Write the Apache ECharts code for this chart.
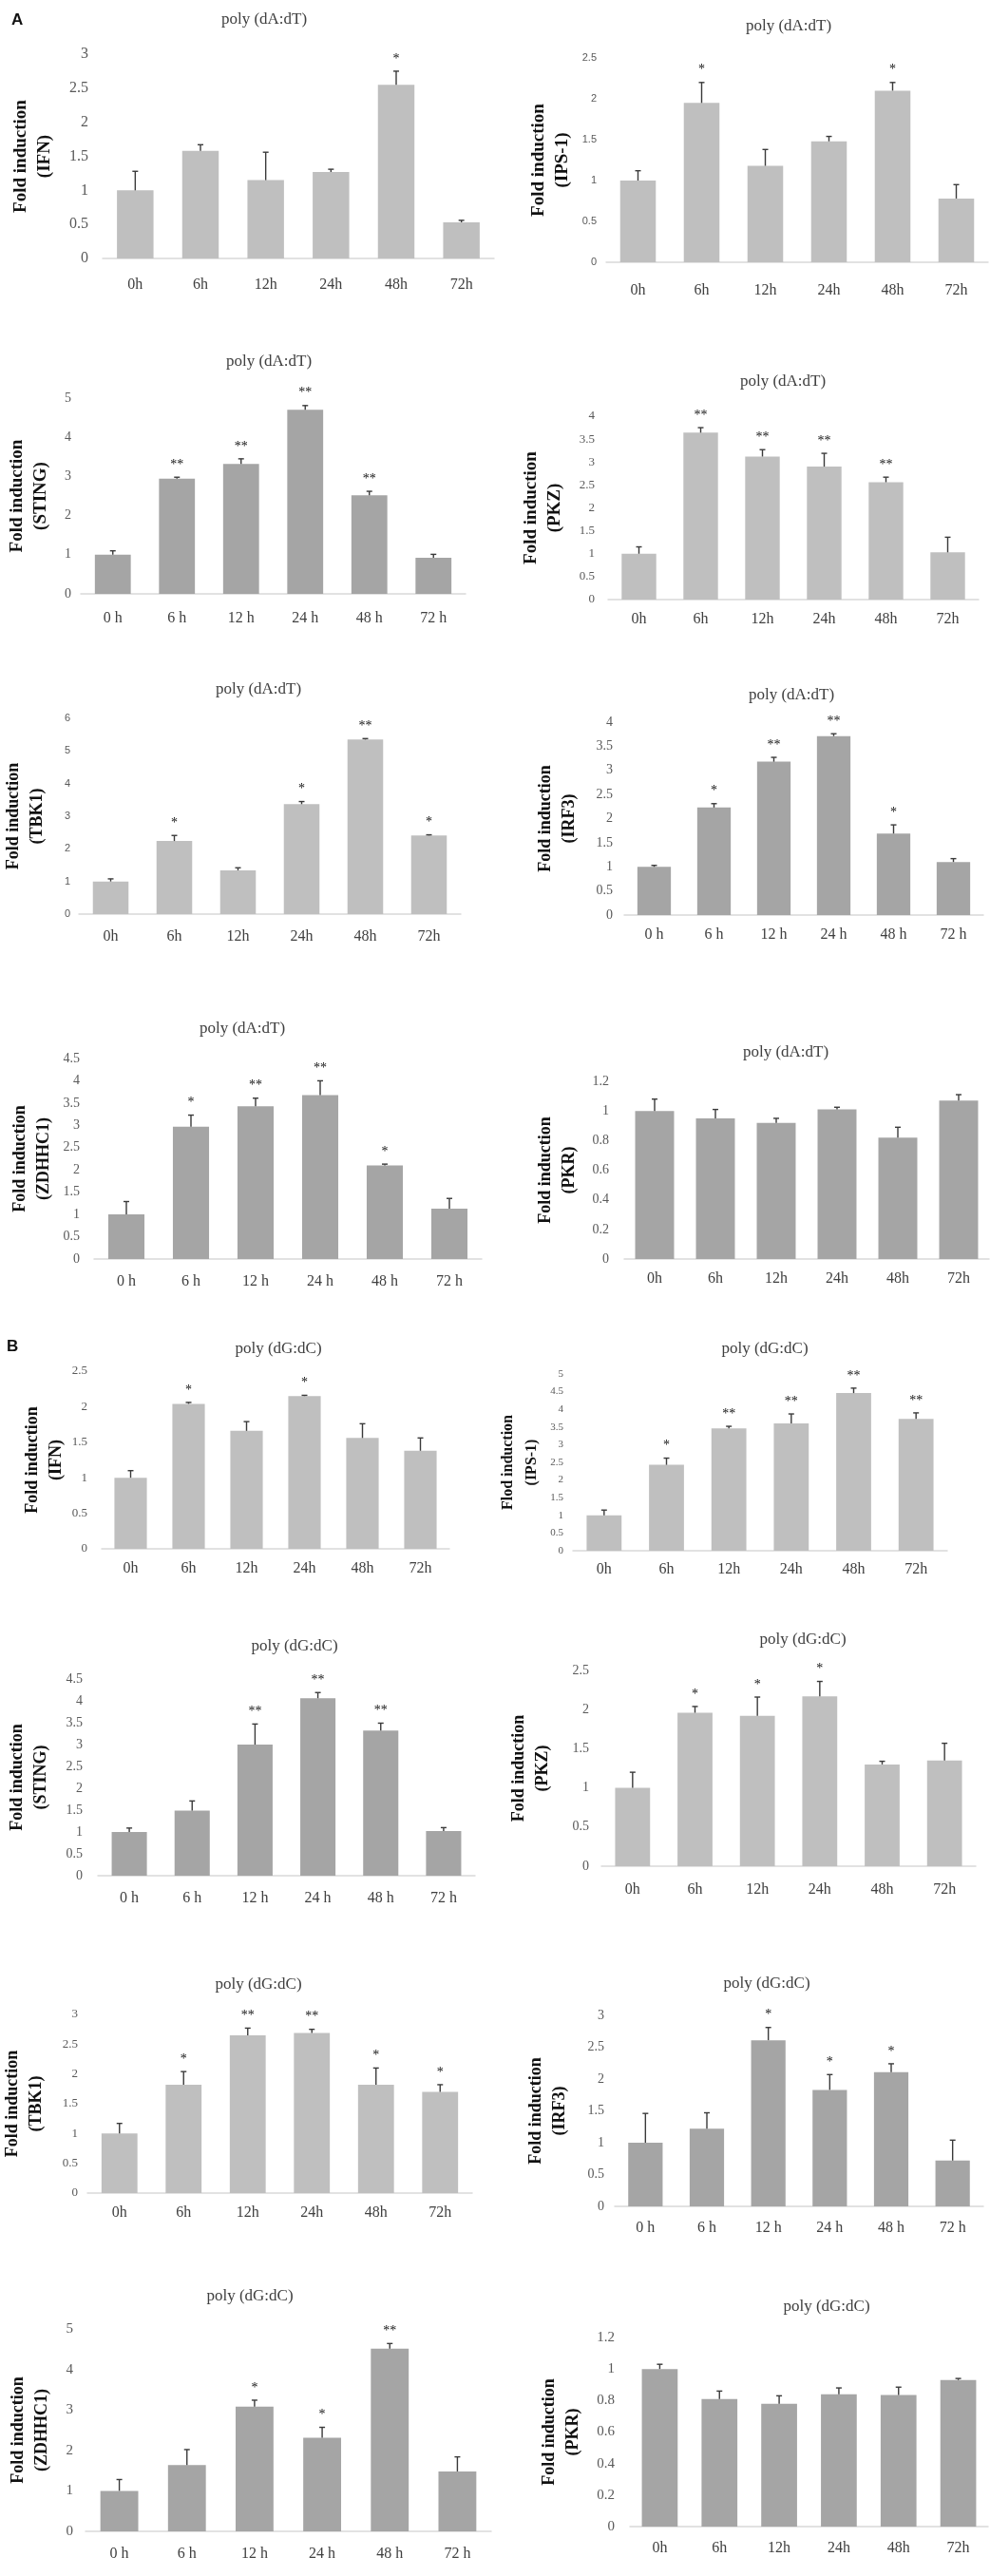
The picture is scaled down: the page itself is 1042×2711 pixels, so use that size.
<!DOCTYPE html>
<html>
<head>
<meta charset="utf-8">
<script src="https://cdn.jsdelivr.net/npm/echarts@6/dist/echarts.min.js"></script>
<style>
  html, body { margin: 0; padding: 0; background: #fff; }
  #chart { width: 1042px; height: 2711px; }
</style>
</head>
<body>
<div id="chart"></div>
<script>
// time points (two spellings used in the figure)
const hours = ['0h', '6h', '12h', '24h', '48h', '72h'];
const hoursSp = ['0 h', '6 h', '12 h', '24 h', '48 h', '72 h'];

// A - poly (dA:dT)
const ifnA = [1.0, 1.58, 1.15, 1.27, 2.55, 0.53];
const ifnAErr = [0.28, 0.09, 0.41, 0.04, 0.2, 0.03];
const ifnASig = ['', '', '', '', '*', ''];

const ips1A = [1.0, 1.95, 1.18, 1.48, 2.1, 0.78];
const ips1AErr = [0.12, 0.25, 0.2, 0.06, 0.1, 0.17];
const ips1ASig = ['', '*', '', '', '*', ''];

const stingA = [1.0, 2.94, 3.32, 4.7, 2.52, 0.92];
const stingAErr = [0.1, 0.04, 0.13, 0.11, 0.1, 0.09];
const stingASig = ['', '**', '**', '**', '**', ''];

const pkzA = [1.0, 3.64, 3.12, 2.9, 2.56, 1.03];
const pkzAErr = [0.15, 0.11, 0.15, 0.29, 0.11, 0.33];
const pkzASig = ['', '**', '**', '**', '**', ''];

const tbk1A = [1.0, 2.24, 1.34, 3.37, 5.35, 2.41];
const tbk1AErr = [0.08, 0.17, 0.08, 0.08, 0.03, 0.02];
const tbk1ASig = ['', '*', '', '*', '**', '*'];

const irf3A = [1.0, 2.23, 3.18, 3.71, 1.69, 1.1];
const irf3AErr = [0.03, 0.08, 0.09, 0.05, 0.18, 0.07];
const irf3ASig = ['', '*', '**', '**', '*', ''];

const zdhhc1A = [1.0, 2.97, 3.43, 3.68, 2.1, 1.13];
const zdhhc1AErr = [0.29, 0.26, 0.18, 0.32, 0.03, 0.23];
const zdhhc1ASig = ['', '*', '**', '**', '*', ''];

const pkrA = [1.0, 0.95, 0.92, 1.01, 0.82, 1.07];
const pkrAErr = [0.08, 0.06, 0.03, 0.015, 0.07, 0.04];
const pkrASig = ['', '', '', '', '', ''];

// B - poly (dG:dC)
const ifnB = [1.0, 2.04, 1.66, 2.15, 1.56, 1.38];
const ifnBErr = [0.1, 0.02, 0.13, 0.01, 0.2, 0.18];
const ifnBSig = ['', '*', '', '*', '', ''];

const ips1B = [1.0, 2.43, 3.46, 3.6, 4.46, 3.73];
const ips1BErr = [0.15, 0.19, 0.06, 0.27, 0.14, 0.17];
const ips1BSig = ['', '*', '**', '**', '**', '**'];

const stingB = [1.0, 1.49, 3.0, 4.06, 3.32, 1.02];
const stingBErr = [0.09, 0.22, 0.47, 0.13, 0.17, 0.08];
const stingBSig = ['', '', '**', '**', '**', ''];

const pkzB = [1.0, 1.96, 1.92, 2.17, 1.3, 1.35];
const pkzBErr = [0.2, 0.08, 0.24, 0.19, 0.04, 0.22];
const pkzBSig = ['', '*', '*', '*', '', ''];

const tbk1B = [1.0, 1.82, 2.65, 2.69, 1.82, 1.7];
const tbk1BErr = [0.17, 0.22, 0.12, 0.06, 0.28, 0.12];
const tbk1BSig = ['', '*', '**', '**', '*', '*'];

const irf3B = [1.0, 1.22, 2.61, 1.83, 2.11, 0.72];
const irf3BErr = [0.46, 0.25, 0.2, 0.24, 0.13, 0.32];
const irf3BSig = ['', '', '*', '*', '*', ''];

const zdhhc1B = [1.0, 1.64, 3.08, 2.31, 4.51, 1.48];
const zdhhc1BErr = [0.28, 0.38, 0.16, 0.26, 0.13, 0.36];
const zdhhc1BSig = ['', '', '*', '*', '**', ''];

const pkrB = [1.0, 0.81, 0.78, 0.84, 0.835, 0.93];
const pkrBErr = [0.03, 0.05, 0.05, 0.04, 0.05, 0.01];
const pkrBSig = ['', '', '', '', '', ''];

const SERIF = '"Liberation Serif", "DejaVu Serif", serif';
const SANS = '"Liberation Sans", "DejaVu Sans", sans-serif';
const LIGHT = '#BFBFBF';
const DARK = '#A5A5A5';
const TA = 'poly (dA:dT)';
const TB = 'poly (dG:dC)';

// 面板布局: box = [左, 右, 顶(最大刻度), 零线]
const panels = [
    { title: TA, name: 'Fold induction\n(IFN)', cats: hours, val: ifnA, err: ifnAErr, sig: ifnASig, max: 3, step: 0.5, color: LIGHT,
      box: [108, 520, 57, 272], tx: 278, ty: 21, gap: 48, nfs: 19, tfs: 16, tfont: SERIF, tm: 15, cm: 20 },
    { title: TA, name: 'Fold induction\n(IPS-1)', cats: hours, val: ips1A, err: ips1AErr, sig: ips1ASig, max: 2.5, step: 0.5, color: LIGHT,
      box: [638, 1040, 61, 276], tx: 830, ty: 28, gap: 33, nfs: 19, tfs: 11, tfont: SANS, tm: 10, cm: 22 },
    { title: TA, name: 'Fold induction\n(STING)', cats: hoursSp, val: stingA, err: stingAErr, sig: stingASig, max: 5, step: 1, color: DARK,
      box: [85, 490, 419, 625], tx: 283, ty: 381, gap: 29, nfs: 19, tfs: 14, tfont: SERIF, tm: 10, cm: 18 },
    { title: TA, name: 'Fold induction\n(PKZ)', cats: hours, val: pkzA, err: pkzAErr, sig: pkzASig, max: 4, step: 0.5, color: LIGHT,
      box: [640, 1030, 438, 631], tx: 824, ty: 402, gap: 43, nfs: 19, tfs: 13, tfont: SERIF, tm: 14, cm: 13 },
    { title: TA, name: 'Fold induction\n(TBK1)', cats: hours, val: tbk1A, err: tbk1AErr, sig: tbk1ASig, max: 6, step: 1, color: LIGHT,
      box: [83, 485, 756, 962], tx: 272, ty: 726, gap: 31, nfs: 18, tfs: 11, tfont: SANS, tm: 9, cm: 16 },
    { title: TA, name: 'Fold induction\n(IRF3)', cats: hoursSp, val: irf3A, err: irf3AErr, sig: irf3ASig, max: 4, step: 0.5, color: DARK,
      box: [657, 1035, 760, 963], tx: 833, ty: 732, gap: 45, nfs: 18, tfs: 14, tfont: SERIF, tm: 12, cm: 13 },
    { title: TA, name: 'Fold induction\n(ZDHHC1)', cats: hoursSp, val: zdhhc1A, err: zdhhc1AErr, sig: zdhhc1ASig, max: 4.5, step: 0.5, color: DARK,
      box: [99, 507, 1114, 1325], tx: 255, ty: 1083, gap: 40, nfs: 18, tfs: 14, tfont: SERIF, tm: 15, cm: 16 },
    { title: TA, name: 'Fold induction\n(PKR)', cats: hours, val: pkrA, err: pkrAErr, sig: pkrASig, max: 1.2, step: 0.2, color: DARK,
      box: [657, 1041, 1138, 1325], tx: 827, ty: 1108, gap: 45, nfs: 18, tfs: 14, tfont: SERIF, tm: 16, cm: 13 },

    { title: TB, name: 'Fold induction\n(IFN)', cats: hours, val: ifnB, err: ifnBErr, sig: ifnBSig, max: 2.5, step: 0.5, color: LIGHT,
      box: [107, 473, 1443, 1630], tx: 293, ty: 1420, gap: 35, nfs: 18, tfs: 13, tfont: SERIF, tm: 15, cm: 13 },
    { title: TB, name: 'Flod induction\n(IPS-1)', cats: hours, val: ips1B, err: ips1BErr, sig: ips1BSig, max: 5, step: 0.5, color: LIGHT,
      box: [603, 997, 1446, 1632], tx: 805, ty: 1420, gap: 31, nfs: 16, tfs: 11, tfont: SERIF, tm: 10, cm: 12 },
    { title: TB, name: 'Fold induction\n(STING)', cats: hoursSp, val: stingB, err: stingBErr, sig: stingBSig, max: 4.5, step: 0.5, color: DARK,
      box: [103, 500, 1767, 1974], tx: 310, ty: 1733, gap: 47, nfs: 18, tfs: 14, tfont: SERIF, tm: 16, cm: 16 },
    { title: TB, name: 'Fold induction\n(PKZ)', cats: hours, val: pkzB, err: pkzBErr, sig: pkzBSig, max: 2.5, step: 0.5, color: LIGHT,
      box: [633, 1027, 1758, 1964], tx: 845, ty: 1726, gap: 49, nfs: 18, tfs: 14, tfont: SERIF, tm: 13, cm: 17 },
    { title: TB, name: 'Fold induction\n(TBK1)', cats: hours, val: tbk1B, err: tbk1BErr, sig: tbk1BSig, max: 3, step: 0.5, color: LIGHT,
      box: [87, 497, 2120, 2308], tx: 272, ty: 2089, gap: 41, nfs: 18, tfs: 13, tfont: SERIF, tm: 10, cm: 13 },
    { title: TB, name: 'Fold induction\n(IRF3)', cats: hoursSp, val: irf3B, err: irf3BErr, sig: irf3BSig, max: 3, step: 0.5, color: DARK,
      box: [647, 1035, 2121, 2322], tx: 807, ty: 2088, gap: 45, nfs: 18, tfs: 14, tfont: SERIF, tm: 11, cm: 15 },
    { title: TB, name: 'Fold induction\n(ZDHHC1)', cats: hoursSp, val: zdhhc1B, err: zdhhc1BErr, sig: zdhhc1BSig, max: 5, step: 1, color: DARK,
      box: [90, 517, 2451, 2664], tx: 263, ty: 2417, gap: 33, nfs: 18, tfs: 15, tfont: SERIF, tm: 13, cm: 16 },
    { title: TB, name: 'Fold induction\n(PKR)', cats: hours, val: pkrB, err: pkrBErr, sig: pkrBSig, max: 1.2, step: 0.2, color: DARK,
      box: [663, 1040, 2460, 2659], tx: 870, ty: 2428, gap: 47, nfs: 18, tfs: 15, tfont: SERIF, tm: 16, cm: 15 }
];

// 误差线 + 显著性星号
function makeErrRender(p) {
    return function (params, api) {
        const i = api.value(0);
        const v = api.value(1);
        const e = api.value(2);
        const base = api.coord([i, v]);
        const top = api.coord([i, v + e]);
        const cap = 3;
        const ls = { stroke: '#3a3a3a', lineWidth: 1.4 };
        const kids = [
            { type: 'line', shape: { x1: base[0], y1: base[1], x2: top[0], y2: top[1] }, style: ls },
            { type: 'line', shape: { x1: top[0] - cap, y1: top[1], x2: top[0] + cap, y2: top[1] }, style: ls }
        ];
        const s = p.sig[params.dataIndex];
        if (s) {
            kids.push({
                type: 'text',
                style: {
                    text: s, x: top[0], y: top[1] - 6,
                    align: 'center', verticalAlign: 'bottom',
                    font: '14px ' + SERIF, fill: '#111'
                }
            });
        }
        return { type: 'group', children: kids };
    };
}

function initChart() {
    const chart = echarts.init(document.getElementById('chart'), null, { renderer: 'canvas' });

    const grid = [], xAxis = [], yAxis = [], series = [];
    const graphic = [
        { type: 'text', left: 12, top: 13, style: { text: 'A', font: 'bold 17px ' + SANS, fill: '#111' } },
        { type: 'text', left: 7, top: 1409, style: { text: 'B', font: 'bold 17px ' + SANS, fill: '#111' } }
    ];

    panels.forEach((p, k) => {
        const [x0, x1, yt, y0] = p.box;
        grid.push({ left: x0, top: yt, width: x1 - x0, height: y0 - yt });
        xAxis.push({
            type: 'category', gridIndex: k, data: p.cats,
            axisLine: { lineStyle: { color: '#D9D9D9', width: 1.5 } },
            axisTick: { show: false },
            axisLabel: { margin: p.cm, fontFamily: SERIF, fontSize: 16, color: '#404040', interval: 0 }
        });
        yAxis.push({
            type: 'value', gridIndex: k, min: 0, max: p.max, interval: p.step,
            splitLine: { show: false }, axisLine: { show: false }, axisTick: { show: false },
            axisLabel: { margin: p.tm, fontFamily: p.tfont, fontSize: p.tfs, color: '#595959' },
            name: p.name, nameLocation: 'middle', nameRotate: 90, nameGap: p.gap,
            nameTextStyle: { fontFamily: SERIF, fontWeight: 'bold', fontSize: p.nfs, lineHeight: 25, color: '#111' }
        });
        series.push({
            type: 'bar', xAxisIndex: k, yAxisIndex: k, data: p.val,
            barWidth: k === 7 ? '64%' : (k === 15 ? '60%' : '56%'),
            itemStyle: { color: p.color }, silent: true
        });
        series.push({
            type: 'custom', xAxisIndex: k, yAxisIndex: k,
            data: p.val.map((v, i) => [i, v, p.err[i]]),
            renderItem: makeErrRender(p), silent: true, z: 5
        });
        graphic.push({
            type: 'text', x: p.tx, y: p.ty,
            style: { text: p.title, font: '17px ' + SERIF, fill: '#404040', align: 'center', verticalAlign: 'middle' }
        });
    });

    chart.setOption({
        animation: false,
        backgroundColor: '#fff',
        grid: grid,
        xAxis: xAxis,
        yAxis: yAxis,
        series: series,
        graphic: graphic
    });
}

document.addEventListener('DOMContentLoaded', initChart);
</script>
</body>
</html>
